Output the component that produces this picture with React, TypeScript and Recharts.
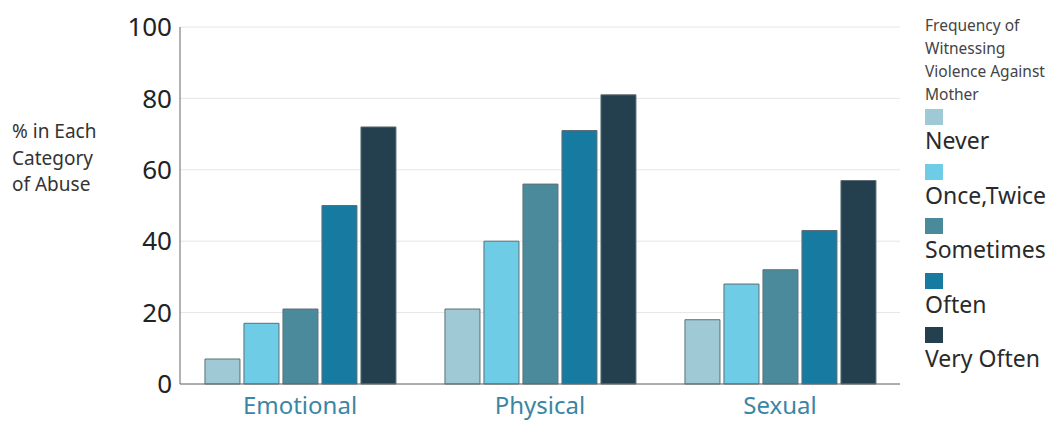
import React from 'react';
import {
  BarChart,
  Bar,
  XAxis,
  YAxis,
  CartesianGrid,
} from 'recharts';

const categories = ['Emotional', 'Physical', 'Sexual'];
const never = [7, 21, 18];
const onceTwice = [17, 40, 28];
const sometimes = [21, 56, 32];
const often = [50, 71, 43];
const veryOften = [72, 81, 57];
const yTicks = [0, 20, 40, 60, 80, 100];

const SERIES = [
  { key: 'never', name: 'Never', color: '#9fcad5' },
  { key: 'onceTwice', name: 'Once,Twice', color: '#6fcce6' },
  { key: 'sometimes', name: 'Sometimes', color: '#4b8a9a' },
  { key: 'often', name: 'Often', color: '#167aa1' },
  { key: 'veryOften', name: 'Very Often', color: '#243f4d' },
];

const data = categories.map((c, i) => ({
  category: c,
  never: never[i],
  onceTwice: onceTwice[i],
  sometimes: sometimes[i],
  often: often[i],
  veryOften: veryOften[i],
}));

const FONT = '"Noto Sans", sans-serif';

function LegendBox() {
  return (
    <div style={{ fontFamily: FONT, color: '#444' }}>
      <div style={{ fontSize: 15.5, lineHeight: '23px', marginBottom: 3 }}>
        Frequency of
        <br />
        Witnessing
        <br />
        Violence Against
        <br />
        Mother
      </div>
      {SERIES.map((s) => (
        <div key={s.key} style={{ height: 54.5 }}>
          <div style={{ width: 18, height: 16, background: s.color, marginBottom: 2 }} />
          <div style={{ fontSize: 23, lineHeight: '26px', color: '#2a2a2a', whiteSpace: 'nowrap' }}>
            {s.name}
          </div>
        </div>
      ))}
    </div>
  );
}

export default function App() {
  return (
    <div style={{ position: 'relative', width: 1048, height: 413 }}>
      <div
        style={{
          position: 'absolute',
          left: 4,
          top: 110,
          fontFamily: FONT,
          fontSize: 19,
          lineHeight: '26.5px',
          color: '#333',
        }}
      >
        % in Each
        <br />
        Category
        <br />
        of Abuse
      </div>
      <div style={{ position: 'absolute', left: 917, top: 6 }}>
        <LegendBox />
      </div>
      <BarChart
        width={1048}
        height={413}
        data={data}
        margin={{ top: 19, right: 156, left: 0, bottom: 0 }}
        barCategoryGap="10.4%"
        barGap={4}
      >
        <CartesianGrid vertical={false} stroke="#e6e6e6" />
        <XAxis
          dataKey="category"
          height={37}
          tickLine={false}
          tickMargin={7}
          axisLine={{ stroke: '#666' }}
          tick={{ fill: '#3a86a4', fontSize: 24, fontFamily: FONT }}
        />
        <YAxis
          width={172}
          domain={[0, 100]}
          ticks={yTicks}
          tickLine={false}
          axisLine={{ stroke: '#666' }}
          tick={{ fill: '#222', fontSize: 26, fontFamily: FONT }}
        />
        {SERIES.map((s) => (
          <Bar
            key={s.key}
            dataKey={s.key}
            name={s.name}
            fill={s.color}
            stroke="#5d6e75"
            strokeWidth={1}
            isAnimationActive={false}
          />
        ))}
      </BarChart>
    </div>
  );
}
